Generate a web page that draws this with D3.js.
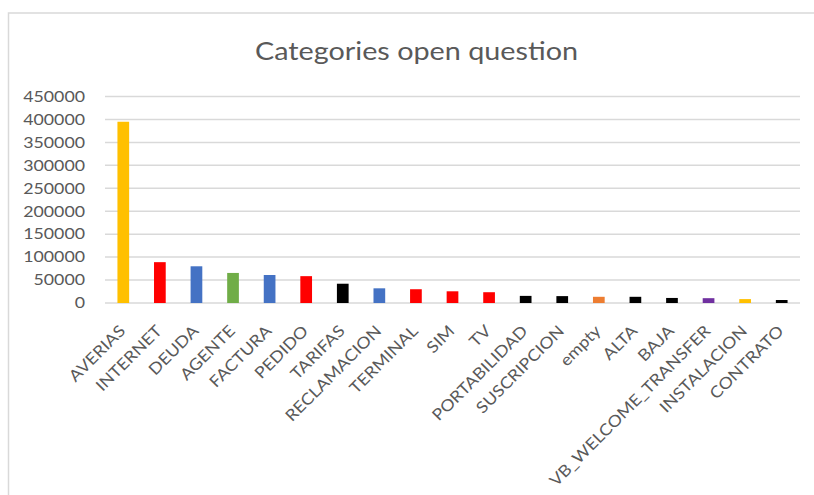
<!DOCTYPE html>
<html>
<head>
<meta charset="utf-8">
<script src="https://cdn.jsdelivr.net/npm/d3@7"></script>
<style>
  html, body { margin: 0; padding: 0; background: #fff; }
  svg { display: block; }
  text { font-family: Lato, "Open Sans", sans-serif; fill: #595959; }
</style>
</head>
<body>
<svg id="chart" width="814" height="495"></svg>
<script>
// Category counts for the open question
const categories = ["AVERIAS", "INTERNET", "DEUDA", "AGENTE", "FACTURA", "PEDIDO", "TARIFAS",
  "RECLAMACION", "TERMINAL", "SIM", "TV", "PORTABILIDAD", "SUSCRIPCION", "empty", "ALTA",
  "BAJA", "VB_WELCOME_TRANSFER", "INSTALACION", "CONTRATO"];
const counts = [395000, 89000, 80000, 65500, 61000, 58500, 42000, 32000, 30000, 25500,
  23500, 15500, 15000, 13500, 13500, 11000, 10500, 8500, 6500];
const barColors = ["#FFC000", "#FF0000", "#4472C4", "#70AD47", "#4472C4", "#FF0000", "#000000",
  "#4472C4", "#FF0000", "#FF0000", "#FF0000", "#000000", "#000000", "#ED7D31", "#000000",
  "#000000", "#7030A0", "#FFC000", "#000000"];
const yTicks = [0, 50000, 100000, 150000, 200000, 250000, 300000, 350000, 400000, 450000];
const chartTitle = "Categories open question";

const svg = d3.select("#chart");

// outer chart frame
svg.append("rect")
  .attr("x", 8.5).attr("y", 13)
  .attr("width", 820).attr("height", 500)
  .attr("fill", "#fff")
  .attr("stroke", "#d9d9d9").attr("stroke-width", 1.5);

const x = d3.scaleBand()
  .domain(categories)
  .range([105, 800])
  .paddingInner(0.68)
  .paddingOuter(0.34);

const y = d3.scaleLinear()
  .domain([0, 450000])
  .range([303, 96.5]);

// title
svg.append("text")
  .attr("x", 416.5).attr("y", 60)
  .attr("text-anchor", "middle")
  .attr("font-size", 25)
  .attr("textLength", 323)
  .attr("lengthAdjust", "spacingAndGlyphs")
  .text(chartTitle);

// gridlines
svg.append("g")
  .selectAll("line")
  .data(yTicks)
  .join("line")
  .attr("x1", 105).attr("x2", 800)
  .attr("y1", d => y(d)).attr("y2", d => y(d))
  .attr("stroke", "#d9d9d9").attr("stroke-width", 1.5);

// y axis labels
const yAxis = d3.axisLeft(y).tickValues(yTicks).tickSize(0).tickPadding(0)
  .tickFormat(d3.format("d"));
const gy = svg.append("g").attr("transform", "translate(85,0)").call(yAxis);
gy.select(".domain").remove();
gy.selectAll("text")
  .attr("font-size", 15)
  .attr("font-family", "Lato, sans-serif")
  .attr("fill", "#595959")
  .attr("textLength", d => String(d).length * 10.3)
  .attr("lengthAdjust", "spacingAndGlyphs");

// bars
svg.append("g")
  .selectAll("rect")
  .data(categories)
  .join("rect")
  .attr("x", d => x(d))
  .attr("width", x.bandwidth())
  .attr("y", (d, i) => y(counts[i]))
  .attr("height", (d, i) => y(0) - y(counts[i]))
  .attr("fill", (d, i) => barColors[i]);

// x axis labels, rotated
const xAxis = d3.axisBottom(x).tickSize(0).tickPadding(0);
const gx = svg.append("g").attr("transform", `translate(0,${y(0)})`).call(xAxis);
gx.select(".domain").remove();
gx.selectAll("text")
  .attr("font-size", 16)
  .attr("font-family", "Lato, sans-serif")
  .attr("fill", "#595959")
  .attr("text-anchor", "end")
  .attr("dy", null)
  .attr("y", 0)
  .attr("transform", "translate(3,29) rotate(-45) scale(1.12,1)");
</script>
</body>
</html>
